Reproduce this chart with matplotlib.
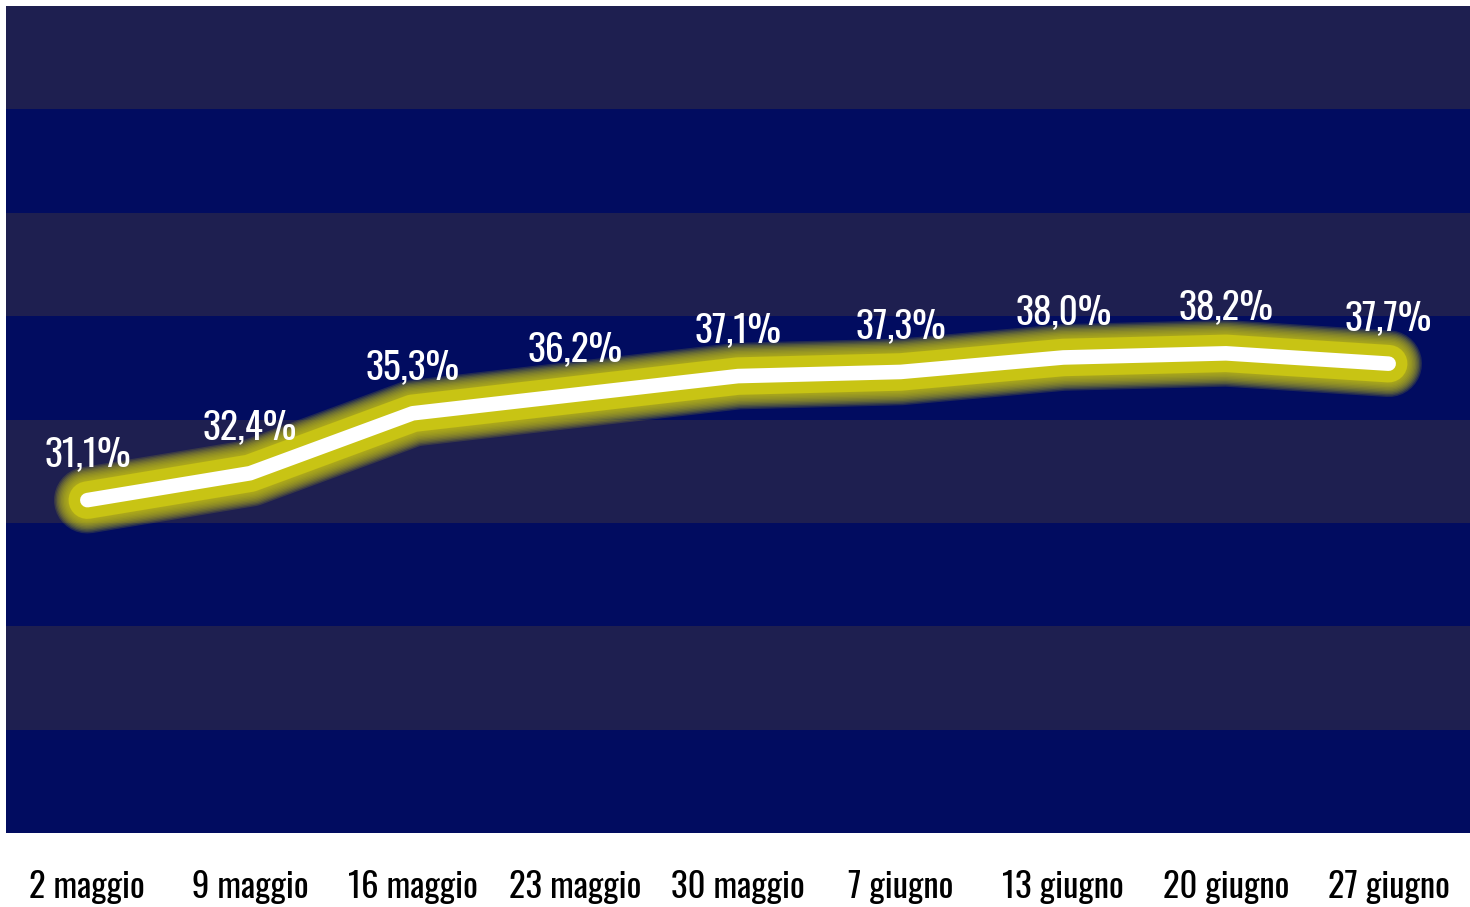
import numpy as np
import matplotlib
matplotlib.use("Agg")
import matplotlib.pyplot as plt
from matplotlib import font_manager

# dati
date = ["2 maggio", "9 maggio", "16 maggio", "23 maggio", "30 maggio",
        "7 giugno", "13 giugno", "20 giugno", "27 giugno"]
valori = [31.1, 32.4, 35.3, 36.2, 37.1, 37.3, 38.0, 38.2, 37.7]
etichette = ["31,1%", "32,4%", "35,3%", "36,2%", "37,1%",
             "37,3%", "38,0%", "38,2%", "37,7%"]

names = set(f.name for f in font_manager.fontManager.ttflist)
font, stretch = "DejaVu Sans", "normal"
for cand, st in [("Oswald", "normal"), ("Open Sans", "condensed")]:
    if cand in names:
        font, stretch = cand, st
        break
plt.rcParams['font.family'] = [font, 'DejaVu Sans']
plt.rcParams['font.stretch'] = stretch

grigio = "#1e1f50"
blu = "#010c60"
giallo = "#c8c414"

fig = plt.figure(figsize=(14.7, 9.07), dpi=100)
ax = fig.add_axes([6/1470, 1-833/907, 1464/1470, 827/907])
ax.set_facecolor(blu)

ymin, ymax = 15, 55
for i, y0 in enumerate(range(ymin, ymax, 5)):
    if i % 2 == 1:
        ax.axhspan(y0, y0+5, color=grigio, lw=0, zorder=0)

x = np.arange(len(date))

# alone giallo sfumato
for lw in np.arange(48, 27, -2):
    ax.plot(x, valori, color=giallo, lw=lw, alpha=0.16,
            solid_capstyle='round', solid_joinstyle='round', zorder=2)
ax.plot(x, valori, color=giallo, lw=27, solid_capstyle='round',
        solid_joinstyle='round', zorder=2)
ax.plot(x, valori, color="white", lw=10.5, solid_capstyle='round',
        solid_joinstyle='round', zorder=3)

for xi, v, t in zip(x, valori, etichette):
    ax.text(xi, v + 1.3, t, ha='center', va='bottom', color='white',
            fontsize=27, zorder=4)

ax.set_xlim(-0.5, 8.5)
ax.set_ylim(ymin, ymax)
ax.set_yticks([])
ax.set_xticks(x)
ax.set_xticklabels(date, fontsize=25, color='black')
ax.tick_params(axis='x', length=0, pad=27)
for s in ax.spines.values():
    s.set_visible(False)

fig.savefig("out.png", dpi=100, facecolor="white")
